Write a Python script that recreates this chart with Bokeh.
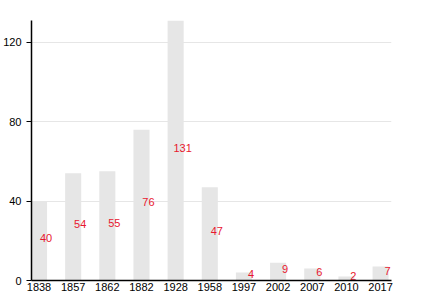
from bokeh.plotting import figure
from bokeh.models import ColumnDataSource, FixedTicker, Range1d
from bokeh.core.properties import value
from bokeh.embed import file_html
from bokeh.resources import INLINE

years = ["1838", "1857", "1862", "1882", "1928", "1958", "1997", "2002", "2007", "2010", "2017"]
counts = [40, 54, 55, 76, 131, 47, 4, 9, 6, 2, 7]
y_ticks = [0, 40, 80, 120]

xs = list(range(len(years)))
src = ColumnDataSource(dict(
    x=xs,
    top=counts,
    mid=[c / 2 for c in counts],
    label=[str(c) for c in counts],
))

p = figure(width=430, height=300, output_backend="svg", toolbar_location=None,
           x_range=Range1d(-0.22, 10.32), y_range=Range1d(0, 131),
           min_border_left=30, min_border_right=39, min_border_top=20, min_border_bottom=20)
p.outline_line_color = None
p.background_fill_color = "white"
p.border_fill_color = "white"

p.vbar(x="x", top="top", bottom=0, width=0.47, source=src,
       fill_color="#e6e6e6", line_color=None)

p.text(x="x", y="mid", text="label", source=src, x_offset=7, y_offset=-3,
       text_align="center", text_baseline="middle",
       text_font=value("Liberation Sans"), text_font_size="11px", text_color="#e8172f")

p.xaxis.ticker = FixedTicker(ticks=xs)
p.xaxis.major_label_overrides = {i: y for i, y in enumerate(years)}
p.xaxis.major_tick_line_color = None
p.xaxis.major_tick_out = 0
p.xaxis.major_tick_in = 0
p.xaxis.minor_tick_line_color = None
p.xaxis.axis_line_color = "black"
p.xaxis.axis_line_width = 1.5
p.xaxis.major_label_standoff = 2
p.xaxis.major_label_text_font = "Liberation Sans"
p.xaxis.major_label_text_font_size = "11px"
p.xaxis.major_label_text_color = "black"

p.yaxis.ticker = FixedTicker(ticks=y_ticks)
p.yaxis.minor_tick_line_color = None
p.yaxis.major_tick_out = 5
p.yaxis.major_tick_in = 0
p.yaxis.major_tick_line_color = "black"
p.yaxis.axis_line_color = "black"
p.yaxis.axis_line_width = 1.5
p.yaxis.major_label_standoff = 5
p.yaxis.major_label_text_font = "Liberation Sans"
p.yaxis.major_label_text_font_size = "11px"
p.yaxis.major_label_text_color = "black"

p.xgrid.grid_line_color = None
p.ygrid.grid_line_color = "#e6e6e6"
p.ygrid.grid_line_width = 1

open("out.html", "w").write(file_html(p, INLINE))
